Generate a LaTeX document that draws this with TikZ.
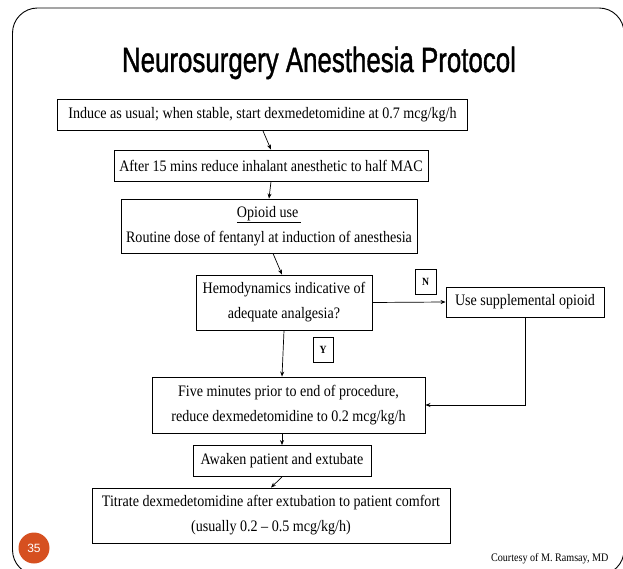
\documentclass[tikz,border=0pt]{standalone}
\usepackage{fontspec}
\setmainfont{Liberation Serif}[FakeStretch=0.88]
\newfontfamily\titlefont{Liberation Sans}[FakeBold=1.3]
\newfontfamily\badgefont{Liberation Sans}
\usetikzlibrary{arrows.meta,calc}
\definecolor{badge}{RGB}{214,80,32}
\newcommand\bodyfont{\fontsize{16}{25}\selectfont}
\tikzset{
 box/.style={draw=black, line width=0.9pt, inner sep=0pt, align=center, font=\bodyfont, text=black},
 lbl/.style={draw=black, line width=0.9pt, inner sep=0pt, font=\fontsize{11}{11}\selectfont\bfseries},
 arr/.style={-{Stealth[length=5pt,width=4pt]}, line width=0.7pt},
}
\begin{document}
\begin{tikzpicture}[x=1pt,y=-1pt]
\useasboundingbox (0,0) rectangle (623,569);
\begin{scope}
\clip (0,0) rectangle (623,569);
\draw[line width=0.9pt, rounded corners=25pt] (12.5,8) rectangle (624,575);
\end{scope}
\node[anchor=base] (title) at (319,72) {\titlefont\resizebox{394pt}{\height}{\fontsize{35}{35}\selectfont Neurosurgery Anesthesia Protocol}};
\node[box, minimum width=410, minimum height=31] (b1) at (262.5,115) {Induce as usual; when stable, start dexmedetomidine at 0.7 mcg/kg/h};
\node[box, minimum width=314, minimum height=31] (b2) at (271,165.5) {After 15 mins reduce inhalant anesthetic to half MAC};
\node[box, minimum width=296, minimum height=54] (b3) at (269,226) {\underline{Opioid use\,}\\Routine dose of fentanyl at induction of anesthesia};
\node[box, minimum width=176, minimum height=55] (b4) at (284,302.5) {Hemodynamics indicative of\\adequate analgesia?};
\node[lbl, minimum width=21, minimum height=25] (bN) at (425.5,281.5) {N};
\node[box, minimum width=158, minimum height=30] (b5) at (525,302) {Use supplemental opioid};
\node[lbl, minimum width=20, minimum height=25] (bY) at (323,349.5) {Y};
\node[box, minimum width=273, minimum height=56] (b6) at (288.5,405) {Five minutes prior to end of procedure,\\reduce dexmedetomidine to 0.2 mcg/kg/h};
\node[box, minimum width=178, minimum height=31] (b7) at (282,461) {Awaken patient and extubate};
\node[box, minimum width=358, minimum height=55] (b8) at (271,515.5) {Titrate dexmedetomidine after extubation to patient comfort\\(usually 0.2 -- 0.5 mcg/kg/h)};
\draw[arr] ([xshift=0.5pt]b1.south) -- (b2.north);
\draw[arr] (b2.south) -- (b3.north);
\draw[arr] ([xshift=4pt]b3.south) -- ([xshift=-2pt]b4.north);
\draw[arr] (b4.east) -- (b5.west);
\draw[arr] (b4.south) -- ([xshift=-6.5pt]b6.north);
\draw[arr] (b5.south) |- (b6.east);
\draw[arr] (b6.south -| b7.north) -- (b7.north);
\draw[arr] (b7.south) -- (b8.north);
\node[circle, fill=badge, minimum size=31pt, inner sep=0pt, text=white, font=\badgefont\fontsize{12}{12}\selectfont] (badge) at (34,548) {35};
\node[anchor=base east, font=\fontsize{11.5}{11.5}\selectfont] (credit) at (612,561) {Courtesy of M. Ramsay, MD};
\end{tikzpicture}
\end{document}
